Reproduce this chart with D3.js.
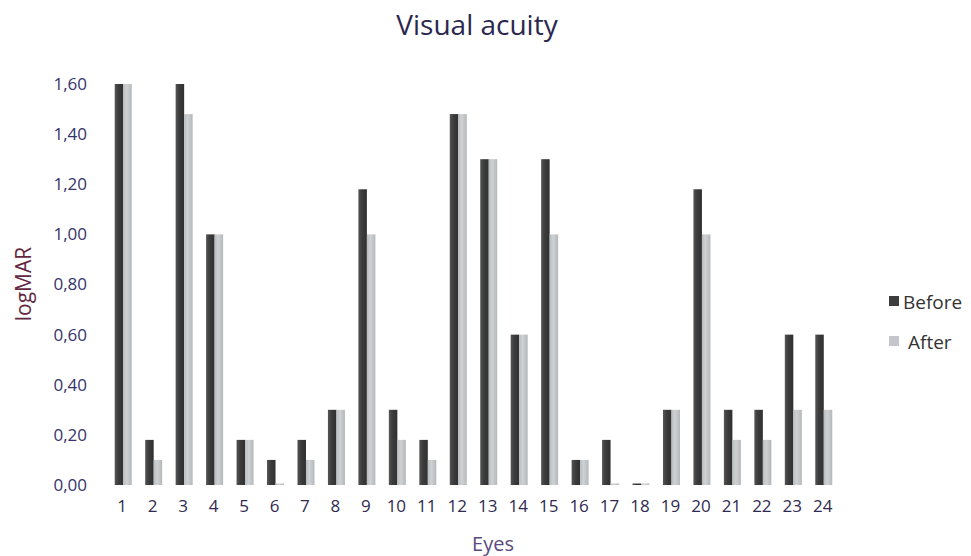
<!DOCTYPE html>
<html><head><meta charset="utf-8">
<script src="https://cdn.jsdelivr.net/npm/d3@7"></script>
<style>body{margin:0;background:#fff}svg{display:block}</style>
</head><body>
<svg id="c" width="971" height="556"></svg>
<script>
const eyes = d3.range(1,25).map(String);
const before = [1.60,0.18,1.60,1.00,0.18,0.10,0.18,0.30,1.18,0.30,0.18,1.48,1.30,0.60,1.30,0.10,0.18,0.00,0.30,1.18,0.30,0.30,0.60,0.60];
const after  = [1.60,0.10,1.48,1.00,0.18,0.00,0.10,0.30,1.00,0.18,0.10,1.48,1.30,0.60,1.00,0.10,0.00,0.00,0.30,1.00,0.18,0.18,0.30,0.30];
const yTicks = [0,0.2,0.4,0.6,0.8,1.0,1.2,1.4,1.6];
const seriesNames = ["Before","After"];

const svg = d3.select("#c");
const font = "'Open Sans', 'Noto Sans', sans-serif";
const x = d3.scaleBand().domain(eyes).range([109, 840]).padding(0);
const y = d3.scaleLinear().domain([0,1.6]).range([485, 84]);
const bw = 8.5;

const defs = svg.append("defs");
function grad(id, stops){
  const g = defs.append("linearGradient").attr("id", id).attr("x1","0").attr("x2","1").attr("y1","0").attr("y2","0");
  stops.forEach(s=>g.append("stop").attr("offset",s[0]).attr("stop-color",s[1]));
}
grad("gB", [[0,"#555"],[0.4,"#3d3d3d"],[1,"#303030"]]);
grad("gA", [[0,"#b8bcbe"],[0.4,"#cfd2d4"],[1,"#b4b8ba"]]);

svg.append("text").attr("x", 477).attr("y", 35).attr("text-anchor","middle")
  .attr("font-family", font).attr("font-size", 28).attr("fill","#2b2850").text("Visual acuity");

// y axis labels
const yAxis = d3.axisLeft(y).tickValues(yTicks).tickSize(0).tickPadding(0)
  .tickFormat(d => d3.format(".2f")(d).replace(".", ","));
const ya = svg.append("g").attr("transform","translate(87,0)").call(yAxis);
ya.select(".domain").remove();
ya.selectAll("text").attr("font-family", font).attr("font-size", 17).attr("fill","#35336a");

// x axis labels
const xAxis = d3.axisBottom(x).tickSize(0).tickPadding(0);
const xa = svg.append("g").attr("transform","translate(0,500)").call(xAxis);
xa.select(".domain").remove();
xa.selectAll("text").attr("font-family", font).attr("font-size", 17).attr("fill","#2f2a50").attr("dy","0.71em").attr("dx", -2);

// bars
const groups = [before, after];
const fills = ["url(#gB)","url(#gA)"];
groups.forEach((vals, si) => {
  svg.append("g").selectAll("rect").data(vals).join("rect")
    .attr("x", (d,i) => x(eyes[i]) + x.bandwidth()/2 - bw + si*bw - 1)
    .attr("width", bw)
    .attr("y", d => Math.min(y(d), y(0) - 1.5))
    .attr("height", d => Math.max(y(0) - y(d), 1.5))
    .attr("fill", fills[si]);
});

// axis titles
svg.append("text").attr("transform","translate(31,284) rotate(-90)").attr("text-anchor","middle")
  .attr("font-family", font).attr("font-size", 21).attr("fill","#62283f").text("logMAR");
svg.append("text").attr("x", 493).attr("y", 551).attr("text-anchor","middle")
  .attr("font-family", font).attr("font-size", 20).attr("fill","#5a4a80").text("Eyes");

// legend
const legColors = ["#3d3d3d","#c3c7cb"];
const lg = svg.append("g").selectAll("g").data(seriesNames).join("g")
  .attr("transform", (d,i) => `translate(889,${296 + i*40})`);
lg.append("rect").attr("width", 10).attr("height", 10).attr("fill", (d,i)=>legColors[i]);
lg.append("text").attr("x", (d,i)=> i===0 ? 14 : 19).attr("y", 13)
  .attr("font-family", font).attr("font-size", 19).attr("fill","#333").text(d=>d);
</script>
</body></html>
